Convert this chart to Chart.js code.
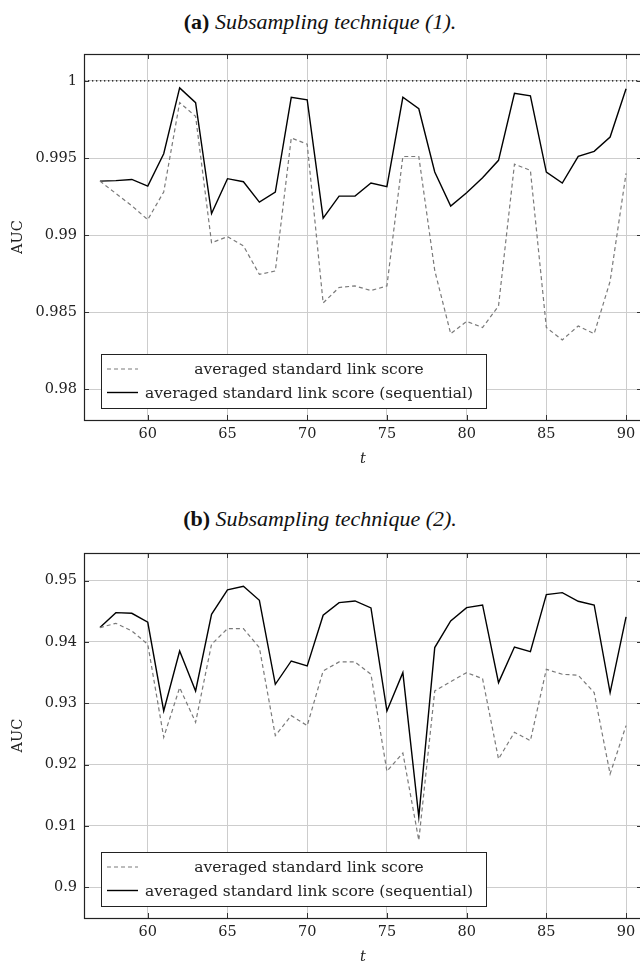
<!DOCTYPE html>
<html>
<head>
<meta charset="utf-8">
<script src="https://cdn.jsdelivr.net/npm/chart.js@4/dist/chart.umd.min.js"></script>
<style>
  html, body { margin: 0; padding: 0; background: #fff; }
  #wrap { position: relative; width: 640px; height: 962px; overflow: hidden; background: #fff; }
  canvas { position: absolute; left: 0; }
  .ttl { position: absolute; left: 0; width: 640px; text-align: center;
         font-family: 'Liberation Serif', serif; font-size: 22px; color: #111; }
  .ttl b { font-weight: bold; }
</style>
</head>
<body>
<div id="wrap">
  <div class="ttl" style="top:9px;"><b>(a)</b> <i>Subsampling technique (1).</i></div>
  <canvas id="chart-a" width="642" height="482" style="top:0;"></canvas>
  <div class="ttl" style="top:506px;"><b>(b)</b> <i>Subsampling technique (2).</i></div>
  <canvas id="chart-b" width="642" height="489" style="top:491px;"></canvas>
</div>
<script>
// time steps
var tSteps = [57, 58, 59, 60, 61, 62, 63, 64, 65, 66, 67, 68, 69, 70, 71, 72, 73,
              74, 75, 76, 77, 78, 79, 80, 81, 82, 83, 84, 85, 86, 87, 88, 89, 90];
var xTicks = [60, 65, 70, 75, 80, 85, 90];

var seriesNames = ['averaged standard link score',
                   'averaged standard link score (sequential)'];

// (a) Subsampling technique (1)
var aucA = [0.9935, 0.9927, 0.9919, 0.9910, 0.9928, 0.9986, 0.9977, 0.9895, 0.9899, 0.9893,
            0.98745, 0.98767, 0.9963, 0.9959, 0.9856, 0.9866, 0.9867, 0.9864, 0.9867, 0.9951,
            0.9951, 0.9877, 0.9836, 0.9844, 0.9840, 0.9854, 0.9946, 0.9942, 0.9840, 0.9832,
            0.9841, 0.9836, 0.9870, 0.9940];
var aucSeqA = [0.9935, 0.99353, 0.99361, 0.99318, 0.99528, 0.99955, 0.99859, 0.99139, 0.99366, 0.99346,
               0.99214, 0.99279, 0.99894, 0.99877, 0.9911, 0.99253, 0.99253, 0.99338, 0.99314, 0.99894,
               0.9982, 0.99409, 0.99188, 0.99275, 0.99372, 0.99485, 0.9992, 0.99903, 0.99409, 0.99338,
               0.99511, 0.99543, 0.99636, 0.9995];
var yTicksA = [0.98, 0.985, 0.99, 0.995, 1];
var yLabelsA = ['0.98', '0.985', '0.99', '0.995', '1'];
var refLineA = 1;

// (b) Subsampling technique (2)
var aucB = [0.94234, 0.94304, 0.9418, 0.93962, 0.92446, 0.93255, 0.9269, 0.93962, 0.94217, 0.94217,
            0.93908, 0.92473, 0.92799, 0.92636, 0.93527, 0.93674, 0.93674, 0.93473, 0.91891, 0.9219,
            0.90766, 0.93201, 0.93353, 0.935, 0.93402, 0.92092, 0.92527, 0.92391, 0.93554, 0.93473,
            0.93457, 0.93174, 0.91848, 0.92636];
var aucSeqB = [0.94234, 0.94478, 0.94467, 0.94321, 0.92875, 0.93853, 0.93201, 0.94451, 0.94848, 0.94908,
               0.94679, 0.9331, 0.9369, 0.93609, 0.94435, 0.94641, 0.94668, 0.94554, 0.92875, 0.935,
               0.9115, 0.93908, 0.94342, 0.9456, 0.94603, 0.93337, 0.93918, 0.93842, 0.94772, 0.94804,
               0.94663, 0.94603, 0.93174, 0.94408];
var yTicksB = [0.9, 0.91, 0.92, 0.93, 0.94, 0.95];
var yLabelsB = ['0.9', '0.91', '0.92', '0.93', '0.94', '0.95'];

var X_MIN = 56, X_MAX = 91;
var SERIF = "'DejaVu Serif', serif";

function pts(ys) {
    return ys.map(function (v, i) { return { x: tSteps[i], y: v }; });
}

// pgfplots-like frame: inner tick marks, box, legend inside the plot
var framePlugin = {
    id: 'frame',
    afterDatasetsDraw: function (chart) {
        var ctx = chart.ctx, a = chart.chartArea;
        var xs = chart.scales.x, ys = chart.scales.y;
        ctx.save();
        ctx.strokeStyle = '#333';
        ctx.lineWidth = 1;
        ctx.beginPath();
        xs.ticks.forEach(function (t) {
            var px = Math.round(xs.getPixelForValue(t.value)) + 0.5;
            ctx.moveTo(px, a.bottom); ctx.lineTo(px, a.bottom - 5);
            ctx.moveTo(px, a.top); ctx.lineTo(px, a.top + 5);
        });
        ys.ticks.forEach(function (t) {
            var py = Math.round(ys.getPixelForValue(t.value)) + 0.5;
            ctx.moveTo(a.left, py); ctx.lineTo(a.left + 5, py);
            ctx.moveTo(a.right, py); ctx.lineTo(a.right - 5, py);
        });
        ctx.stroke();
        ctx.lineWidth = 1.2;
        ctx.strokeStyle = '#222';
        ctx.strokeRect(Math.round(a.left) + 0.5, Math.round(a.top) + 0.5,
                       Math.round(a.right - a.left), Math.round(a.bottom - a.top));

        // legend box
        var lw = 385, lh = 54;
        var lx = Math.round(a.left) + 17, ly = Math.round(a.bottom) - 12 - lh;
        ctx.fillStyle = '#fff';
        ctx.fillRect(lx, ly, lw, lh);
        ctx.lineWidth = 1;
        ctx.strokeStyle = '#222';
        ctx.strokeRect(lx + 0.5, ly + 0.5, lw, lh);
        chart.data.datasets.slice(0, 2).forEach(function (ds, i) {
            var cy = ly + 15 + i * 23.5;
            ctx.setLineDash(ds.borderDash || []);
            ctx.strokeStyle = ds.borderColor;
            ctx.lineWidth = ds.borderWidth;
            ctx.beginPath();
            ctx.moveTo(lx + 6, cy); ctx.lineTo(lx + 37, cy);
            ctx.stroke();
            ctx.setLineDash([]);
            ctx.fillStyle = '#222';
            ctx.font = '15.5px ' + SERIF;
            ctx.textAlign = 'center';
            ctx.textBaseline = 'middle';
            ctx.fillText(ds.label, lx + 208, cy + 1);
        });
        ctx.restore();
    }
};

function makeChart(id, dashed, solid, yMin, yMax, yTicks, yLabels, padTop, ref) {
    var datasets = [
        {
            label: seriesNames[0],
            data: pts(dashed),
            borderColor: '#7a7a7a',
            borderWidth: 1.2,
            borderDash: [4, 3],
            pointRadius: 0,
            tension: 0
        },
        {
            label: seriesNames[1],
            data: pts(solid),
            borderColor: '#000',
            borderWidth: 1.4,
            pointRadius: 0,
            tension: 0
        }
    ];
    if (ref !== undefined) {
        datasets.push({
            label: 'ref',
            data: [{ x: X_MIN, y: ref }, { x: X_MAX, y: ref }],
            borderColor: '#000',
            borderWidth: 1.3,
            borderDash: [1.3, 2.7],
            pointRadius: 0
        });
    }
    return new Chart(document.getElementById(id), {
        type: 'line',
        data: { datasets: datasets },
        plugins: [framePlugin],
        options: {
            responsive: false,
            animation: false,
            events: [],
            layout: { padding: { top: padTop, left: 0, right: 0, bottom: 0 } },
            plugins: { legend: { display: false }, tooltip: { enabled: false } },
            scales: {
                x: {
                    type: 'linear',
                    min: X_MIN, max: X_MAX,
                    afterBuildTicks: function (ax) {
                        ax.ticks = xTicks.map(function (v) { return { value: v }; });
                    },
                    afterFit: function (ax) { ax.height = 62; },
                    grid: { color: '#cdcdcd', lineWidth: 1, drawTicks: false },
                    border: { display: false },
                    ticks: {
                        padding: 6,
                        maxRotation: 0,
                        color: '#222',
                        font: { family: SERIF, size: 14.5 },
                        callback: function (v) { return String(v); }
                    },
                    title: {
                        display: true,
                        text: 't',
                        color: '#222',
                        font: { family: SERIF, size: 14.5, style: 'italic' },
                        padding: { top: 0, bottom: 14 }
                    }
                },
                y: {
                    type: 'linear',
                    min: yMin, max: yMax,
                    afterBuildTicks: function (ax) {
                        ax.ticks = yTicks.map(function (v) { return { value: v }; });
                    },
                    afterFit: function (ax) { ax.width = 84; },
                    grid: { color: '#cdcdcd', lineWidth: 1, drawTicks: false },
                    border: { display: false },
                    ticks: {
                        padding: 7,
                        color: '#222',
                        font: { family: SERIF, size: 14.5 },
                        callback: function (v, i) { return yLabels[i]; }
                    },
                    title: {
                        display: true,
                        text: 'AUC',
                        color: '#222',
                        font: { family: SERIF, size: 14.5 },
                        padding: { top: 10, bottom: 0 }
                    }
                }
            }
        }
    });
}

makeChart('chart-a', aucA, aucSeqA, 0.978, 1.00175, yTicksA, yLabelsA, 54, refLineA);
makeChart('chart-b', aucB, aucSeqB, 0.895, 0.9545, yTicksB, yLabelsB, 62);
</script>
</body>
</html>
